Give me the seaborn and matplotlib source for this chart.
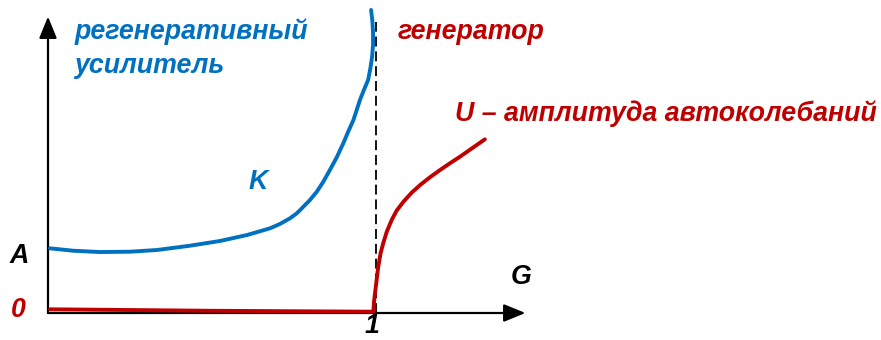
import matplotlib
matplotlib.use("Agg")
import matplotlib.pyplot as plt
import seaborn as sns
import pandas as pd

# Gain curve of the regenerative amplifier (G < 1)
k_g = [0.006, 0.077, 0.159, 0.251, 0.333, 0.434, 0.526, 0.609, 0.679, 0.709,
       0.740, 0.761, 0.781, 0.801, 0.822, 0.842, 0.862, 0.883, 0.903, 0.918,
       0.934, 0.944, 0.954, 0.966, 0.979, 0.986, 0.991, 0.994, 0.994, 0.992, 0.988]
k_val = [0.995, 0.958, 0.938, 0.943, 0.969, 1.035, 1.108, 1.200, 1.303, 1.369,
         1.457, 1.534, 1.635, 1.738, 1.866, 2.020, 2.200, 2.395, 2.611, 2.789,
         2.969, 3.123, 3.277, 3.431, 3.585, 3.769, 3.938, 4.123, 4.308, 4.492, 4.662]

# Self-oscillation amplitude (zero below threshold, grows above G = 1)
u_g = [0.006, 0.500, 0.995, 0.997, 1.000, 1.005, 1.010, 1.017, 1.025, 1.036,
       1.051, 1.066, 1.087, 1.112, 1.138, 1.168, 1.199, 1.229, 1.260, 1.301, 1.336]
u_val = [0.057, 0.034, 0.020, 0.174, 0.303, 0.508, 0.712, 0.918, 1.072, 1.251,
         1.431, 1.574, 1.712, 1.851, 1.969, 2.088, 2.200, 2.303, 2.405, 2.549, 2.672]

threshold_g = 1.003
threshold_top = 4.48

blue = "#0070C0"
red = "#C00000"

sns.set_theme(style="white")
plt.rcParams["font.family"] = ["Liberation Sans", "DejaVu Sans"]

fig = plt.figure(figsize=(8.81, 3.40), dpi=100)
ax = fig.add_axes([0, 0, 1, 1])
ax.set_xlim(-48 / 327, (881 - 48) / 327)
ax.set_ylim(-27 / 65, 313 / 65)
ax.axis("off")

k_df = pd.DataFrame({"G": k_g, "K": k_val})
u_df = pd.DataFrame({"G": u_g, "U": u_val})

# Threshold marker
ax.plot([threshold_g, threshold_g], [0, threshold_top], color="black",
        lw=1.3, ls=(0, (5.5, 2.7)), zorder=1)

# Coordinate axes with arrowheads
ax.annotate("", xy=(0, 4.56), xytext=(0, 0),
            arrowprops=dict(arrowstyle="-|>,head_length=1.1,head_width=0.45",
                            color="black", lw=1.6, shrinkA=0, shrinkB=0))
ax.annotate("", xy=(1.46, 0), xytext=(0, 0),
            arrowprops=dict(arrowstyle="-|>,head_length=1.1,head_width=0.45",
                            color="black", lw=1.6, shrinkA=0, shrinkB=0))

sns.lineplot(data=k_df, x="G", y="K", ax=ax, color=blue, lw=2.8,
             sort=False, estimator=None, zorder=3, solid_joinstyle="round")
sns.lineplot(data=u_df, x="G", y="U", ax=ax, color=red, lw=2.8,
             sort=False, estimator=None, zorder=3, solid_joinstyle="round")

txt = dict(fontweight="bold", fontstyle="italic", fontsize=19.3)
ax.text(0.08, 4.33, "регенеративный", color=blue, ha="left", va="center", **txt)
ax.text(0.08, 3.80, "усилитель", color=blue, ha="left", va="center", **txt)
ax.text(0.642, 2.02, "K", color=blue, ha="center", va="center", **txt)
ax.text(1.07, 4.33, "генератор", color=red, ha="left", va="center", **txt)
ax.text(1.245, 3.06, "U – амплитуда автоколебаний", color=red, ha="left",
        va="center", **txt)
ax.text(-0.088, 0.87, "A", color="black", ha="center", va="center", **txt)
ax.text(-0.092, 0.04, "0", color=red, ha="center", va="center", **txt)
ax.text(1.448, 0.56, "G", color="black", ha="center", va="center", **txt)
ax.text(0.99, -0.205, "1", color="black", ha="center", va="center", **txt)

fig.savefig("out.png", dpi=100)
